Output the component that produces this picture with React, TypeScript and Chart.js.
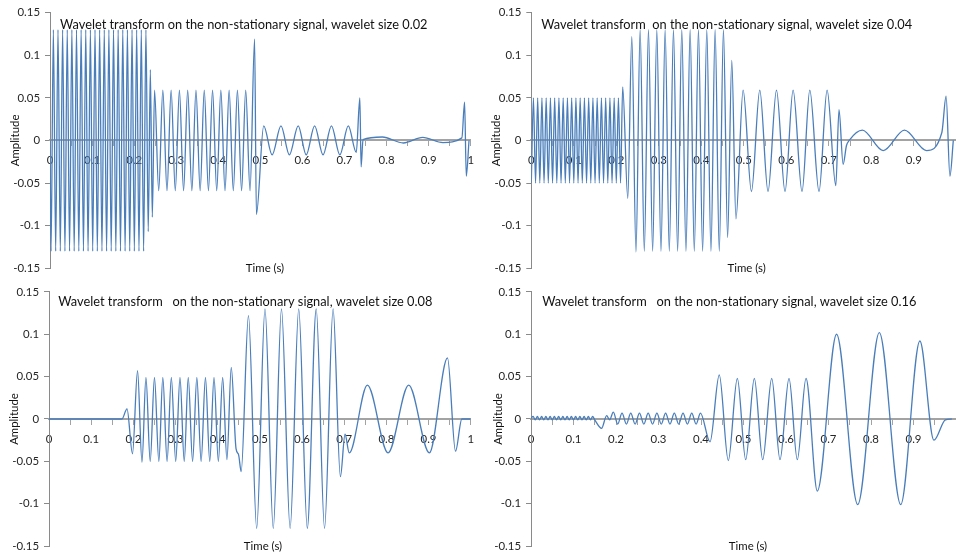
import React, { useEffect, useRef } from 'react';
import { Chart, registerables } from 'chart.js';

Chart.register(...registerables);

// Wavelet transform outputs, stored as successive turning points (time in s, amplitude).
// Wavelet size 0.02
const size002Time = [
  0, 0.0025, 0.008, 0.0135, 0.019, 0.0245, 0.03, 0.0355, 0.041, 0.0465, 0.052, 0.0575, 0.063, 0.0685,
  0.074, 0.0795, 0.085, 0.0905, 0.096, 0.1015, 0.107, 0.1125, 0.118, 0.1235, 0.129, 0.1345, 0.14, 0.1455,
  0.151, 0.1565, 0.162, 0.1675, 0.173, 0.1785, 0.184, 0.1895, 0.195, 0.2005, 0.206, 0.2115, 0.217, 0.2225, 0.228,
  0.2335, 0.2385, 0.2432,
  0.2485, 0.2584, 0.2682, 0.2781, 0.2879, 0.2978, 0.3076, 0.3175, 0.3273, 0.3372, 0.347, 0.3569, 0.3667,
  0.3766, 0.3864, 0.3963, 0.4061, 0.416, 0.4258, 0.4357, 0.4455, 0.4554, 0.4652, 0.4755,
  0.4863, 0.4906,
  0.508, 0.528, 0.549, 0.569, 0.59, 0.609, 0.629, 0.649, 0.669, 0.689, 0.709, 0.728,
  0.7365, 0.7395, 0.744,
  0.79, 0.84, 0.886, 0.934, 0.979,
  0.9855, 0.9895, 0.996,
];
const size002Amp = [
  0, -0.13, 0.13, -0.13, 0.13, -0.13, 0.13, -0.13, 0.13, -0.13, 0.13, -0.13, 0.13, -0.13,
  0.13, -0.13, 0.13, -0.13, 0.13, -0.13, 0.13, -0.13, 0.13, -0.13, 0.13, -0.13, 0.13, -0.13,
  0.13, -0.13, 0.13, -0.13, 0.13, -0.13, 0.13, -0.13, 0.13, -0.13, 0.13, -0.13, 0.13, -0.13, 0.13,
  -0.107, 0.083, -0.09,
  0.059, -0.059, 0.059, -0.059, 0.059, -0.059, 0.059, -0.059, 0.059, -0.059, 0.059, -0.059, 0.059,
  -0.059, 0.059, -0.059, 0.059, -0.059, 0.059, -0.059, 0.059, -0.059, 0.059, -0.059,
  0.119, -0.087,
  0.017, -0.017, 0.017, -0.017, 0.017, -0.017, 0.017, -0.017, 0.017, -0.017, 0.017, -0.014,
  0.05, -0.031, 0.001,
  0.004, -0.003, 0.0035, -0.0025, 0.003,
  0.045, -0.042, 0,
];

// Wavelet size 0.04
const size004Time = [
  0, 0.005, 0.01, 0.015, 0.02, 0.025, 0.03, 0.035, 0.04, 0.045, 0.05, 0.055, 0.06, 0.065, 0.07,
  0.075, 0.08, 0.085, 0.09, 0.095, 0.1, 0.105, 0.11, 0.115, 0.12, 0.125, 0.13, 0.135, 0.14, 0.145,
  0.15, 0.155, 0.16, 0.165, 0.17, 0.175, 0.18, 0.185, 0.19, 0.195, 0.2, 0.205,
  0.21, 0.215, 0.227,
  0.2365, 0.2463, 0.2561, 0.2659, 0.2757, 0.2855, 0.2953, 0.3051, 0.3149, 0.3247, 0.3345, 0.3443,
  0.3541, 0.3639, 0.3737, 0.3835, 0.3933, 0.4031, 0.4129, 0.4227, 0.4325, 0.4423, 0.4521, 0.4619,
  0.4717, 0.4815,
  0.4984, 0.518, 0.5376, 0.557, 0.5769, 0.597, 0.616, 0.637, 0.6553, 0.677, 0.696, 0.7165,
  0.724, 0.7337, 0.7416, 0.748,
  0.779, 0.828, 0.878, 0.93, 0.966,
  0.976, 0.985, 0.993,
];
const size004Amp = [
  -0.05, 0.05, -0.05, 0.05, -0.05, 0.05, -0.05, 0.05, -0.05, 0.05, -0.05, 0.05, -0.05, 0.05, -0.05,
  0.05, -0.05, 0.05, -0.05, 0.05, -0.05, 0.05, -0.05, 0.05, -0.05, 0.05, -0.05, 0.05, -0.05, 0.05,
  -0.05, 0.05, -0.05, 0.05, -0.05, 0.05, -0.05, 0.05, -0.05, 0.05, -0.05, 0.05,
  -0.05, 0.063, -0.068,
  0.122, -0.131, 0.13, -0.13, 0.13, -0.13, 0.13, -0.13, 0.13, -0.13, 0.13, -0.13,
  0.13, -0.13, 0.13, -0.13, 0.13, -0.13, 0.13, -0.13, 0.13, -0.13, 0.13, -0.114,
  0.094, -0.092,
  0.059, -0.06, 0.059, -0.06, 0.059, -0.06, 0.059, -0.06, 0.059, -0.06, 0.059, -0.053,
  0.036, -0.028, -0.006, 0,
  0.012, -0.012, 0.012, -0.012, 0.0093,
  0.052, -0.042, 0,
];

// Wavelet size 0.08
const size008Time = [
  0, 0.173, 0.185, 0.198, 0.21, 0.2205,
  0.2299, 0.24, 0.2501, 0.2605, 0.2699, 0.28, 0.2901, 0.3005, 0.3106, 0.3207, 0.3302, 0.3405,
  0.3506, 0.3607, 0.371, 0.3812, 0.3913, 0.4016, 0.4118, 0.4219,
  0.4322, 0.4435, 0.4495, 0.4557,
  0.473, 0.4925, 0.5122, 0.5318, 0.5513, 0.5718, 0.5922, 0.6125, 0.6337, 0.6534, 0.6737,
  0.691, 0.702, 0.712,
  0.755, 0.804, 0.853, 0.902, 0.945, 0.964, 0.979, 1,
];
const size008Amp = [
  0, 0, 0.012, -0.041, 0.057, -0.051,
  0.049, -0.05, 0.049, -0.05, 0.049, -0.05, 0.049, -0.05, 0.049, -0.05, 0.049, -0.05,
  0.049, -0.05, 0.049, -0.05, 0.049, -0.05, 0.049, -0.048,
  0.061, -0.035, -0.042, -0.062,
  0.122, -0.129, 0.13, -0.129, 0.13, -0.129, 0.13, -0.129, 0.13, -0.129, 0.13,
  -0.068, -0.018, -0.04,
  0.04, -0.04, 0.04, -0.04, 0.072, -0.038, 0, 0,
];

// Wavelet size 0.16
const size016Time = [
  0, 0.005, 0.01, 0.015, 0.02, 0.025, 0.03, 0.035, 0.04, 0.045, 0.05, 0.055, 0.06, 0.065, 0.07, 0.075,
  0.08, 0.085, 0.09, 0.095, 0.1, 0.105, 0.11, 0.115, 0.12, 0.125, 0.13, 0.135, 0.14, 0.145, 0.15,
  0.166, 0.178, 0.185, 0.1937,
  0.204, 0.2142, 0.2245, 0.2347, 0.245, 0.2552, 0.2655, 0.2757, 0.286, 0.2962, 0.3065, 0.3167,
  0.327, 0.3372, 0.3475, 0.3577, 0.368, 0.3782, 0.3885, 0.3987,
  0.4212, 0.443, 0.4642, 0.4855, 0.5052, 0.5255, 0.5452, 0.5664, 0.5859, 0.6071, 0.6266, 0.6471,
  0.6737, 0.719, 0.7687, 0.8196, 0.8699, 0.915, 0.948, 0.975, 0.99,
];
const size016Amp = [
  0.001, 0.003, -0.001, 0.003, -0.001, 0.003, -0.001, 0.003, -0.001, 0.003, -0.001, 0.003, -0.001, 0.003, -0.001, 0.003,
  -0.001, 0.003, -0.001, 0.003, -0.001, 0.003, -0.001, 0.003, -0.001, 0.003, -0.001, 0.003, -0.001, 0.003, -0.001,
  -0.011, 0.004, -0.001, 0.008,
  -0.006, 0.007, -0.006, 0.007, -0.006, 0.007, -0.006, 0.007, -0.006, 0.007, -0.006, 0.007,
  -0.006, 0.007, -0.006, 0.007, -0.006, 0.007, -0.006, 0.007,
  -0.027, 0.052, -0.049, 0.048, -0.048, 0.048, -0.048, 0.048, -0.048, 0.048, -0.048, 0.048,
  -0.085, 0.1, -0.101, 0.102, -0.101, 0.092, -0.025, -0.001, 0,
];

// Axis ticks
const yTickValues = [-0.15, -0.1, -0.05, 0, 0.05, 0.1, 0.15];
const yTickLabels = ['-0.15', '-0.1', '-0.05', '0', '0.05', '0.1', '0.15'];
const xTickValues = [0, 0.05, 0.1, 0.15, 0.2, 0.25, 0.3, 0.35, 0.4, 0.45, 0.5, 0.55, 0.6, 0.65, 0.7, 0.75, 0.8, 0.85, 0.9, 0.95, 1];
const xTickLabels = ['0', '', '0.1', '', '0.2', '', '0.3', '', '0.4', '', '0.5', '', '0.6', '', '0.7', '', '0.8', '', '0.9', '', '1'];
// Right-hand panels run up to the page edge, where the last label has no room.
const xTickLabelsEdge = ['0', '', '0.1', '', '0.2', '', '0.3', '', '0.4', '', '0.5', '', '0.6', '', '0.7', '', '0.8', '', '0.9', '', ''];

const headings = [
  'Wavelet transform on the non-stationary signal, wavelet size 0.02',
  'Wavelet transform  on the non-stationary signal, wavelet size 0.04',
  'Wavelet transform   on the non-stationary signal, wavelet size 0.08',
  'Wavelet transform   on the non-stationary signal, wavelet size 0.16',
];

const FONT = 'Lato';
const HEADING_SIZE = 12.8;
const LABEL_SIZE = 11.4;
const TEXT_COLOR = '#111';
const TICK_COLOR = '#262626';
const LINE_COLOR = '#4A7EBB';
const ZERO_AXIS = '#a3a3a3';
const Y_AXIS = '#8a8a8a';

type Box = {
  left: number; top: number; w: number; h: number;
  axisW: number; padTop: number; padRight: number; padBottom: number;
  headX: number; headY: number; ampX: number; timeX: number; timeY: number;
  labels: string[];
};

const boxes: Box[] = [
  { left: 0, top: 0, w: 482, h: 280, axisW: 50, padTop: 12.7, padRight: 7, padBottom: 10,
    headX: 60, headY: 25, ampX: 15, timeX: 265, timeY: 268, labels: xTickLabels },
  { left: 478, top: 0, w: 520, h: 280, axisW: 53.3, padTop: 12.7, padRight: 41.7, padBottom: 10,
    headX: 63.3, headY: 25, ampX: 18.3, timeX: 268.7, timeY: 268, labels: xTickLabelsEdge },
  { left: 0, top: 280, w: 482, h: 278, axisW: 49, padTop: 9.3, padRight: 7, padBottom: 9.7,
    headX: 58.3, headY: 21.7, ampX: 14.3, timeX: 263, timeY: 266.7, labels: xTickLabels },
  { left: 478, top: 280, w: 520, h: 278, axisW: 53, padTop: 9.3, padRight: 42, padBottom: 9.7,
    headX: 64.3, headY: 21.7, ampX: 20, timeX: 270, timeY: 266.7, labels: xTickLabelsEdge },
];

const series = [
  { t: size002Time, a: size002Amp },
  { t: size004Time, a: size004Amp },
  { t: size008Time, a: size008Amp },
  { t: size016Time, a: size016Amp },
];

function labelsPlugin(box: Box, heading: string) {
  return {
    id: 'panelLabels',
    afterDraw(chart: Chart) {
      const { ctx, chartArea } = chart;
      ctx.save();
      ctx.fillStyle = TEXT_COLOR;
      ctx.textBaseline = 'middle';
      ctx.textAlign = 'left';
      ctx.font = `${HEADING_SIZE}px ${FONT}`;
      ctx.fillText(heading, box.headX, box.headY);
      ctx.font = `${LABEL_SIZE}px ${FONT}`;
      ctx.textAlign = 'center';
      ctx.fillText('Time (s)', box.timeX, box.timeY);
      ctx.translate(box.ampX, (chartArea.top + chartArea.bottom) / 2);
      ctx.rotate(-Math.PI / 2);
      ctx.fillText('Amplitude', 0, 0);
      ctx.restore();
    },
  };
}

function Panel({ index }: { index: number }) {
  const ref = useRef<HTMLCanvasElement>(null);
  const box = boxes[index];

  useEffect(() => {
    const canvas = ref.current;
    if (!canvas) return;
    const { t, a } = series[index];
    const points = t.map((x, i) => ({ x, y: a[i] }));
    const tickFont = { family: FONT, size: LABEL_SIZE };

    const chart = new Chart(canvas, {
      type: 'line',
      data: {
        datasets: [
          {
            data: points,
            borderColor: LINE_COLOR,
            borderWidth: 1.3,
            pointRadius: 0,
            fill: false,
            cubicInterpolationMode: 'monotone',
          },
        ],
      },
      options: {
        responsive: false,
        animation: false,
        events: [],
        layout: { padding: { left: 0, top: box.padTop, right: box.padRight, bottom: box.padBottom } },
        plugins: {
          legend: { display: false },
          tooltip: { enabled: false },
          title: { display: false },
        },
        scales: {
          x: {
            type: 'linear',
            min: 0,
            max: 1,
            position: { y: 0 },
            afterFit: (s: any) => { s.height = 0; },
            afterBuildTicks: (s: any) => { s.ticks = xTickValues.map((value) => ({ value })); },
            ticks: {
              autoSkip: false,
              maxRotation: 0,
              minRotation: 0,
              padding: 8,
              color: TICK_COLOR,
              font: tickFont,
              callback: (_v: any, i: number) => box.labels[i],
            },
            grid: { drawOnChartArea: false, drawTicks: true, tickLength: 5, color: ZERO_AXIS },
            border: { display: true, color: ZERO_AXIS, width: 2 },
          },
          y: {
            type: 'linear',
            min: -0.15,
            max: 0.15,
            afterFit: (s: any) => { s.width = box.axisW; },
            afterBuildTicks: (s: any) => { s.ticks = yTickValues.map((value) => ({ value })); },
            ticks: {
              padding: 5,
              color: TICK_COLOR,
              font: tickFont,
              callback: (_v: any, i: number) => yTickLabels[i],
            },
            grid: { drawOnChartArea: false, drawTicks: true, tickLength: 5, color: Y_AXIS },
            border: { display: true, color: Y_AXIS, width: 1 },
          },
        },
      },
      plugins: [labelsPlugin(box, headings[index])],
    } as any);

    return () => chart.destroy();
  }, [index]);

  return (
    <canvas
      ref={ref}
      width={box.w}
      height={box.h}
      style={{ position: 'absolute', left: box.left, top: box.top, width: box.w, height: box.h }}
    />
  );
}

export default function App() {
  return (
    <div
      style={{
        position: 'fixed',
        left: 0,
        top: 0,
        width: 956,
        height: 558,
        overflow: 'hidden',
        background: '#ffffff',
      }}
    >
      {[0, 1, 2, 3].map((i) => (
        <Panel key={i} index={i} />
      ))}
    </div>
  );
}
